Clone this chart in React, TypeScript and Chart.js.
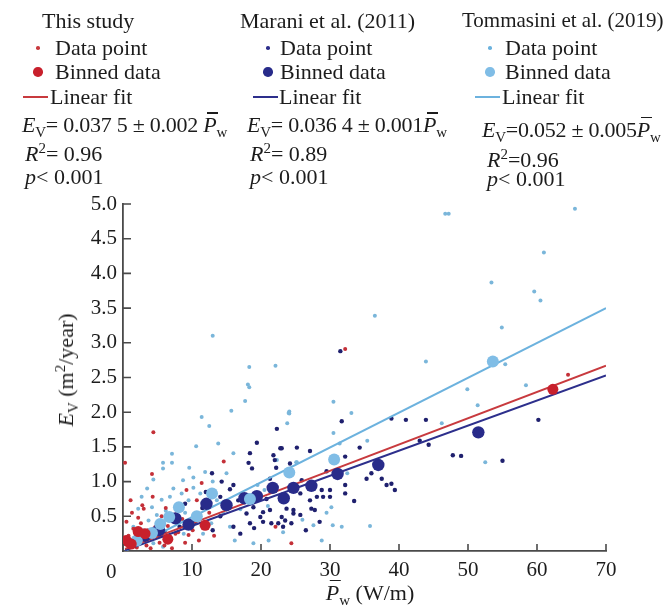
import React, { useEffect, useRef } from "react";
import { Chart, registerables } from "chart.js";

Chart.register(...registerables);

// ---------- data ----------
const xTicks = [0, 10, 20, 30, 40, 50, 60, 70];
const yTicks = [0.5, 1.0, 1.5, 2.0, 2.5, 3.0, 3.5, 4.0, 4.5, 5.0];

// This study (red)
const redPoints: number[][] = [
  [0.3, 1.27], [4.4, 1.71], [4.2, 1.11], [1.1, 0.73], [14.6, 1.29], [11.4, 0.98], [4.3, 0.78],
  [3.0, 0.61], [9.2, 0.88], [2.2, 0.48], [10.7, 0.73], [8.0, 0.27], [9.5, 0.23], [22.1, 0.35],
  [24.4, 0.11], [64.5, 2.54], [32.2, 2.91], [0.8, 0.22], [1.5, 0.32], [2.0, 0.05], [2.6, 0.40],
  [3.1, 0.16], [3.6, 0.30], [4.0, 0.04], [5.0, 0.20], [5.6, 0.50], [6.0, 0.08], [6.5, 0.36],
  [7.1, 0.04], [7.6, 0.25], [1.3, 0.55], [0.5, 0.42], [2.8, 0.66], [6.2, 0.62], [8.6, 0.46],
  [9.0, 0.12], [10.1, 0.30], [1.8, 0.18], [2.4, 0.25], [3.4, 0.08], [4.7, 0.35], [5.3, 0.12],
  [11.0, 0.15], [12.5, 0.55], [13.2, 0.22], [7.8, 0.58], [0.6, 0.08],
];
const redBins: number[][] = [
  [0.5, 0.15], [1.2, 0.1], [2.2, 0.28], [3.2, 0.25], [6.5, 0.17], [11.9, 0.37], [62.3, 2.33],
];

// Marani et al. (2011) (navy)
const navyPoints: number[][] = [
  [31.5, 2.88], [22.3, 1.76], [31.7, 1.87], [38.9, 1.91], [41.0, 1.89], [43.9, 1.89], [44.3, 1.53],
  [47.8, 1.38], [43.0, 1.59], [60.2, 1.89], [22.8, 1.48], [21.8, 1.38], [25.2, 1.49], [27.1, 1.44],
  [32.2, 1.36], [34.3, 1.49], [22.2, 1.20], [24.2, 1.26], [35.3, 1.04], [37.5, 1.04], [38.2, 0.95],
  [39.4, 0.88], [38.9, 0.97], [32.2, 0.95], [32.2, 0.83], [28.8, 0.88], [28.1, 0.78], [29.0, 0.78],
  [30.0, 0.78], [25.9, 1.02], [25.7, 0.83], [27.1, 0.73], [27.3, 0.61], [27.8, 0.59], [23.7, 0.61],
  [24.7, 0.54], [25.7, 0.52], [23.0, 0.49], [23.5, 0.44], [20.3, 0.56], [20.3, 0.42], [21.5, 0.40],
  [23.2, 0.35], [24.4, 0.40], [21.3, 0.59], [22.0, 1.31], [21.3, 1.04], [30.0, 0.88], [19.4, 1.56],
  [18.4, 1.41], [23.0, 1.48], [12.9, 1.12], [18.7, 1.19], [18.2, 1.27], [14.3, 1.00], [15.5, 0.89],
  [14.1, 0.78], [16.7, 0.73], [9.0, 0.68], [18.9, 0.63], [24.7, 0.59], [17.9, 0.54], [18.4, 0.40],
  [19.9, 0.49], [22.5, 0.40], [14.1, 0.50], [55.0, 1.30], [49.0, 1.37], [36.0, 1.12], [33.5, 0.72],
  [6.0, 0.28], [8.2, 0.35], [10.5, 0.42], [11.5, 0.62], [13.0, 0.30], [16.0, 0.35], [17.0, 0.25],
  [19.0, 0.33], [26.5, 0.30], [28.5, 0.42], [20.8, 0.75], [16.0, 0.95], [12.0, 0.85], [29.5, 1.15],
  [3.5, 0.18], [4.5, 0.32], [5.5, 0.22],
];
const navyBins: number[][] = [
  [3.2, 0.22], [5.2, 0.3], [7.6, 0.47], [9.5, 0.38], [12.1, 0.68], [15.0, 0.66], [17.6, 0.76],
  [19.4, 0.79], [21.7, 0.91], [23.3, 0.76], [24.7, 0.91], [27.3, 0.94], [31.1, 1.11], [37.0, 1.24],
  [51.5, 1.71],
];

// Tommasini et al. (2019) (light blue)
const lightPoints: number[][] = [
  [46.7, 4.86], [47.2, 4.86], [65.5, 4.93], [61.0, 4.30], [53.4, 3.87], [59.6, 3.74], [60.5, 3.61],
  [54.9, 3.22], [36.5, 3.39], [43.9, 2.73], [22.1, 2.67], [49.9, 2.33], [58.4, 2.39], [51.4, 2.10],
  [55.4, 2.69], [33.1, 1.99], [30.5, 2.15], [46.2, 1.84], [30.5, 1.70], [24.1, 2.01], [24.1, 1.98],
  [23.8, 1.84], [31.4, 1.55], [35.4, 1.59], [22.3, 1.31], [25.2, 1.28], [32.5, 1.12], [30.2, 0.63],
  [27.6, 0.37], [30.4, 0.37], [31.7, 0.35], [28.8, 0.15], [23.2, 0.27], [52.5, 1.28], [35.8, 0.36],
  [17.7, 2.16], [15.7, 2.02], [11.4, 1.93], [12.5, 1.80], [24.0, 1.99], [10.6, 1.51], [13.8, 1.55],
  [7.1, 1.40], [5.8, 1.27], [7.1, 1.27], [16.0, 1.41], [25.1, 1.28], [5.8, 1.19], [4.4, 1.03],
  [8.7, 1.02], [10.2, 1.06], [11.9, 1.14], [10.2, 0.91], [7.3, 0.90], [2.7, 0.78], [5.6, 0.74],
  [6.8, 0.78], [8.5, 0.83], [9.5, 0.73], [11.2, 0.83], [13.6, 0.73], [2.2, 0.61], [4.2, 0.63],
  [4.9, 0.52], [3.7, 0.44], [7.3, 0.44], [10.4, 0.44], [11.6, 0.25], [15.5, 0.35], [16.2, 0.15],
  [18.9, 0.11], [21.1, 0.15], [4.4, 0.11], [5.8, 0.06], [1.5, 0.35], [3.0, 0.30], [6.2, 0.58],
  [8.0, 0.50], [9.0, 0.55], [6.5, 0.20], [8.8, 0.25], [12.8, 0.40], [14.5, 0.55], [17.0, 0.60],
  [19.5, 0.95], [20.5, 0.88], [15.0, 1.12], [13.0, 1.00], [9.6, 1.20], [3.5, 0.90], [26.0, 0.45],
  [29.5, 0.55], [21.0, 0.65], [13.0, 3.10], [18.3, 2.65], [18.1, 2.40], [18.3, 2.36],
];
const lightBins: number[][] = [
  [2.0, 0.15], [4.2, 0.26], [5.4, 0.39], [6.7, 0.49], [8.1, 0.63], [10.7, 0.5], [12.9, 0.83],
  [18.4, 0.75], [24.1, 1.13], [30.6, 1.32], [53.6, 2.73],
];

// linear fits (end values)
const fitX = [0.3, 70];
const redFitY = [0.03, 2.67];
const navyFitY = [0.01, 2.53];
const lightFitY = [0.0, 3.5];

// ---------- styles ----------
const RED_PT = "#c43038";
const RED_BIN = "#c8202c";
const RED_LINE = "#c83a3e";
const NAVY_PT = "#1f206e";
const NAVY_BIN = "#282b8a";
const NAVY_LINE = "#2d2f8c";
const LIGHT_PT = "#7ab6da";
const LIGHT_BIN = "#80bde6";
const LIGHT_LINE = "#6cb2de";
const AXIS = "#4a4a4a";
const TEXT = "#1c1c1c";
const SERIF = '"Liberation Serif", "Times New Roman", serif';

const toXY = (arr: number[][]) => arr.map(([x, y]) => ({ x, y }));
const fit = (ys: number[]) => fitX.map((x, i) => ({ x, y: ys[i] }));

const inwardTicks = {
  id: "inwardTicks",
  afterDraw(chart: any) {
    const { ctx, chartArea, scales } = chart;
    const xs = scales.x;
    const ys = scales.y;
    ctx.save();
    ctx.strokeStyle = AXIS;
    ctx.lineWidth = 1.6;
    ctx.beginPath();
    xs.ticks.forEach((t: any) => {
      const px = xs.getPixelForValue(t.value);
      ctx.moveTo(px, chartArea.bottom);
      ctx.lineTo(px, chartArea.bottom - 7);
    });
    ys.ticks.forEach((t: any) => {
      const py = ys.getPixelForValue(t.value);
      ctx.moveTo(chartArea.left, py);
      ctx.lineTo(chartArea.left + 8, py);
    });
    ctx.stroke();
    ctx.restore();
  },
};

const F = 22;
function Txt({ x, b, children, style }: any) {
  return (
    <div
      style={{
        position: "absolute",
        left: x,
        top: b - 18.4,
        lineHeight: F + "px",
        whiteSpace: "nowrap",
        ...style,
      }}
    >
      {children}
    </div>
  );
}
const Sub = ({ children }: any) => (
  <span style={{ fontSize: 15, position: "relative", top: 5 }}>{children}</span>
);
const Sup = ({ children }: any) => (
  <span style={{ fontSize: 15, position: "relative", top: -8 }}>{children}</span>
);
const Pbar = () => (
  <span style={{ position: "relative", fontStyle: "italic" }}>
    P
    <span
      style={{
        position: "absolute",
        left: 4,
        width: 11,
        top: 0,
        height: 1.4,
        background: TEXT,
      }}
    />
  </span>
);
const Dot = ({ cx, cy, r, color }: any) => (
  <div
    style={{
      position: "absolute",
      left: cx - r,
      top: cy - r,
      width: 2 * r,
      height: 2 * r,
      borderRadius: "50%",
      background: color,
    }}
  />
);
const Seg = ({ x1, x2, cy, color }: any) => (
  <div
    style={{
      position: "absolute",
      left: x1,
      top: cy - 1,
      width: x2 - x1,
      height: 2,
      background: color,
    }}
  />
);

function LegendCol({ title, titleSize, tx, dotX, textX, lineX1, lineX2, lineTextX, color, binColor, eq, eqX, r2, r2X, pX, b }: any) {
  return (
    <>
      <Txt x={tx} b={b[0]} style={titleSize ? { fontSize: titleSize } : undefined}>{title}</Txt>
      <Dot cx={dotX} cy={b[1] - 7} r={1.8} color={color} />
      <Txt x={textX} b={b[1]}>Data point</Txt>
      <Dot cx={dotX} cy={b[2] - 7} r={4.8} color={binColor} />
      <Txt x={textX} b={b[2]}>Binned data</Txt>
      <Seg x1={lineX1} x2={lineX2} cy={b[3] - 7} color={color} />
      <Txt x={lineTextX} b={b[3]}>Linear fit</Txt>
      <Txt x={eqX} b={b[4]} style={{ letterSpacing: "-0.25px" }}>{eq}</Txt>
      <Txt x={r2X} b={b[5]}>{r2}</Txt>
      <Txt x={pX} b={b[6]}>
        <i>p</i>&lt; 0.001
      </Txt>
    </>
  );
}

export default function App() {
  const ref = useRef<HTMLCanvasElement | null>(null);

  useEffect(() => {
    if (!ref.current) return;
    const chart = new Chart(ref.current, {
      type: "scatter",
      data: {
        datasets: [
          { data: toXY(redBins), backgroundColor: RED_BIN, pointRadius: 5.5, borderWidth: 0 },
          { data: toXY(lightBins), backgroundColor: LIGHT_BIN, pointRadius: 6, borderWidth: 0 },
          { data: toXY(navyBins), backgroundColor: NAVY_BIN, pointRadius: 6.2, borderWidth: 0 },
          { type: "line", data: fit(redFitY), borderColor: RED_LINE, borderWidth: 2, pointRadius: 0, showLine: true, fill: false } as any,
          { type: "line", data: fit(navyFitY), borderColor: NAVY_LINE, borderWidth: 2, pointRadius: 0, showLine: true, fill: false } as any,
          { type: "line", data: fit(lightFitY), borderColor: LIGHT_LINE, borderWidth: 2, pointRadius: 0, showLine: true, fill: false } as any,
          { data: toXY(redPoints), backgroundColor: RED_PT, pointRadius: 2, borderWidth: 0 },
          { data: toXY(navyPoints), backgroundColor: NAVY_PT, pointRadius: 2.2, borderWidth: 0 },
          { data: toXY(lightPoints), backgroundColor: LIGHT_PT, pointRadius: 2, borderWidth: 0 },
        ],
      },
      options: {
        animation: false,
        responsive: false,
        devicePixelRatio: 1,
        layout: { padding: { left: 0, top: 204, right: 65, bottom: 0 } },
        plugins: { legend: { display: false }, tooltip: { enabled: false } },
        scales: {
          x: {
            type: "linear",
            min: 0,
            max: 70,
            afterFit: (s: any) => {
              s.height = 54;
            },
            afterBuildTicks: (s: any) => {
              s.ticks = xTicks.map((v) => ({ value: v }));
            },
            ticks: {
              color: TEXT,
              font: { family: SERIF, size: 21 },
              padding: 7,
              maxRotation: 0,
              callback: (v: any) => (v === 0 ? "" : String(v)),
            },
            grid: { display: false, drawTicks: false },
            border: { display: true, color: AXIS, width: 1.8 },
          },
          y: {
            type: "linear",
            min: 0,
            max: 5,
            afterFit: (s: any) => {
              s.width = 123;
            },
            afterBuildTicks: (s: any) => {
              s.ticks = yTicks.map((v) => ({ value: v }));
            },
            ticks: {
              color: TEXT,
              font: { family: SERIF, size: 21 },
              padding: 6,
              callback: (v: any) => Number(v).toFixed(1),
            },
            grid: { display: false, drawTicks: false },
            border: { display: true, color: AXIS, width: 1.8 },
          },
        },
      },
      plugins: [inwardTicks],
    });
    return () => chart.destroy();
  }, []);

  const b12 = [28.3, 55, 79, 104, 132.7, 161.7, 184];
  const b3 = [27.3, 55, 79, 104, 137, 167.7, 186];

  return (
    <div
      style={{
        position: "absolute",
        left: 0,
        top: 0,
        width: 671,
        height: 605,
        background: "#fff",
        fontFamily: SERIF,
        fontSize: F,
        color: TEXT,
        overflow: "hidden",
      }}
    >
      <canvas ref={ref} width={671} height={605} style={{ position: "absolute", left: 0, top: 0, width: 671, height: 605 }} />

      <LegendCol
        title="This study"
        tx={42}
        dotX={38}
        textX={55}
        lineX1={23}
        lineX2={48}
        lineTextX={50}
        color={RED_LINE}
        binColor={RED_BIN}
        eqX={22}
        eq={<><i>E</i><Sub>V</Sub>= 0.037 5 ± 0.002 <Pbar /><Sub>w</Sub></>}
        r2X={25}
        r2={<><i>R</i><Sup>2</Sup>= 0.96</>}
        pX={25}
        b={b12}
      />
      <LegendCol
        title="Marani et al. (2011)"
        tx={240}
        dotX={268}
        textX={280}
        lineX1={253}
        lineX2={278}
        lineTextX={279}
        color={NAVY_LINE}
        binColor={NAVY_BIN}
        eqX={247}
        eq={<><i>E</i><Sub>V</Sub>= 0.036 4 ± 0.001<Pbar /><Sub>w</Sub></>}
        r2X={250}
        r2={<><i>R</i><Sup>2</Sup>= 0.89</>}
        pX={250}
        b={b12}
      />
      <LegendCol
        title="Tommasini et al. (2019)"
        titleSize={21}
        tx={462}
        dotX={490}
        textX={505}
        lineX1={475}
        lineX2={500}
        lineTextX={502}
        color={LIGHT_LINE}
        binColor={LIGHT_BIN}
        eqX={482}
        eq={<><i>E</i><Sub>V</Sub>=0.052 ± 0.005<Pbar /><Sub>w</Sub></>}
        r2X={487}
        r2={<><i>R</i><Sup>2</Sup>=0.96</>}
        pX={487}
        b={b3}
      />

      {/* origin tick label */}
      <Txt x={106} b={578} style={{ fontSize: 21 }}>0</Txt>

      {/* axis titles */}
      <div
        style={{
          position: "absolute",
          left: 67,
          top: 370,
          transform: "translate(-50%, -50%) rotate(-90deg)",
          whiteSpace: "nowrap",
          lineHeight: F + "px",
        }}
      >
        <i>E</i><Sub>V</Sub> (m<Sup>2</Sup>/year)
      </div>
      <div
        style={{
          position: "absolute",
          left: 370,
          top: 594,
          transform: "translate(-50%, -50%)",
          whiteSpace: "nowrap",
          lineHeight: F + "px",
        }}
      >
        <Pbar /><Sub>w</Sub> (W/m)
      </div>
    </div>
  );
}
